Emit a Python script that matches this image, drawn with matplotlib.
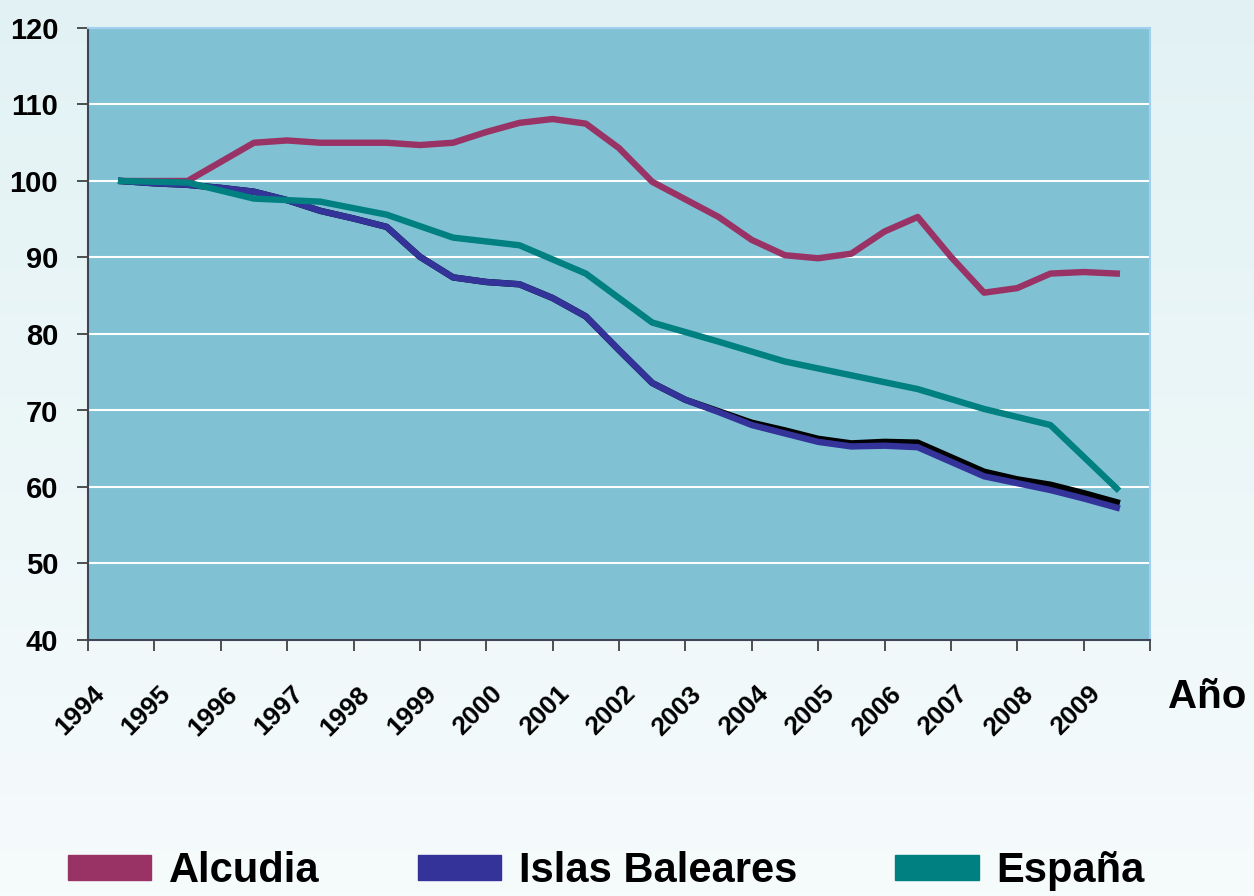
import numpy as np
import matplotlib
matplotlib.use('Agg')
import matplotlib.pyplot as plt
from matplotlib.patches import Patch
from matplotlib.colors import LinearSegmentedColormap
from matplotlib.transforms import ScaledTranslation
from matplotlib import font_manager

# Indices 1994 = 100
# Alcudia / Islas Baleares drawn as smoothed curves -> read at half-year steps
x_half = np.arange(1994.5, 2010.0, 0.5)
alcudia = [100.0, 100.0, 100.0, 102.5, 105.0, 105.3, 105.0, 105.0, 105.0, 104.7,
           105.0, 106.4, 107.6, 108.1, 107.5, 104.3, 99.9, 97.6, 95.3, 92.3,
           90.3, 89.9, 90.5, 93.4, 95.3, 90.1, 85.4, 86.0, 87.9, 88.1, 87.9]
baleares = [100.0, 99.7, 99.5, 99.1, 98.6, 97.5, 96.1, 95.1, 94.0, 90.1,
            87.4, 86.8, 86.5, 84.7, 82.3, 77.9, 73.6, 71.4, 69.8, 68.1,
            67.0, 65.9, 65.3, 65.4, 65.2, 63.3, 61.4, 60.5, 59.6, 58.5, 57.3]
# black series hidden under Baleares (no legend entry)
sombra = [100.0, 99.7, 99.5, 99.1, 98.6, 97.5, 96.1, 95.1, 94.0, 90.1,
          87.4, 86.8, 86.5, 84.7, 82.3, 77.9, 73.6, 71.4, 69.9, 68.4,
          67.4, 66.3, 65.7, 65.9, 65.8, 63.9, 62.0, 61.0, 60.3, 59.2, 58.0]
# España: yearly points, straight segments
x_year = np.arange(1994.5, 2010.0, 1.0)
espana = [100.0, 99.8, 97.7, 97.3, 95.6, 92.6, 91.6, 87.9, 81.5, 79.0,
          76.4, 74.6, 72.8, 70.2, 68.1, 59.8]

years = [str(y) for y in range(1994, 2010)]
series_names = ['Alcudia', 'Islas Baleares', 'España']
colors = ['#993366', '#333399', '#008080']

names = {f.name for f in font_manager.fontManager.ttflist}
main_font = 'Liberation Sans' if 'Liberation Sans' in names else 'DejaVu Sans'
leg_font = 'Liberation Sans Narrow' if 'Liberation Sans Narrow' in names else main_font
plt.rcParams['font.family'] = [main_font, 'DejaVu Sans']

fig = plt.figure(figsize=(12.54, 8.96), dpi=100)

# light gradient background
bg = fig.add_axes([0, 0, 1, 1], zorder=-10)
grad = np.linspace(0, 1, 256).reshape(-1, 1)
bg_cmap = LinearSegmentedColormap.from_list('bg', ['#e2f2f4', '#f6fbfc'])
bg.imshow(grad, aspect='auto', cmap=bg_cmap, extent=[0, 1, 0, 1])
bg.axis('off')

ax = fig.add_axes([88 / 1254, 1 - 640 / 896, (1150 - 88) / 1254, (640 - 28) / 896])
ax.set_facecolor('#80c2d3')

lw = 4.6
ax.plot(x_half, alcudia, color=colors[0], lw=lw, solid_joinstyle='round', zorder=3)
ax.plot(x_half, sombra, color='black', lw=lw, solid_joinstyle='round', zorder=4)
ax.plot(x_half, baleares, color=colors[1], lw=lw, solid_joinstyle='round', zorder=5)
ax.plot(x_year, espana, color=colors[2], lw=lw, solid_joinstyle='round', zorder=6)

ax.set_xlim(1994, 2010)
ax.set_ylim(40, 120)
ax.set_yticks(range(40, 121, 10))
ax.yaxis.grid(True, color='white', lw=1.5)
ax.set_axisbelow(True)

ax.set_xticks(range(1994, 2011))
ax.set_xticklabels([])
ax.set_xticks(x_year, minor=True)
ax.set_xticklabels(years, minor=True)
ax.tick_params(axis='x', which='major', length=8, width=1.2, color='#333333', direction='out')
ax.tick_params(axis='x', which='minor', length=0, pad=30, labelsize=19)
ax.tick_params(axis='y', length=8, width=1.2, color='#333333', pad=13.5, labelsize=21)
shift = ScaledTranslation(-29 / 100, 0, fig.dpi_scale_trans)
for lbl in ax.get_xticklabels(minor=True):
    lbl.set_rotation(45)
    lbl.set_ha('right')
    lbl.set_va('top')
    lbl.set_rotation_mode('anchor')
    lbl.set_fontweight('bold')
    lbl.set_transform(lbl.get_transform() + shift)
for lbl in ax.get_yticklabels():
    lbl.set_fontweight('bold')

for s in ['left', 'bottom']:
    ax.spines[s].set_color('#3c4656')
    ax.spines[s].set_linewidth(1.5)
for s in ['top', 'right']:
    ax.spines[s].set_color('#a3d0ef')
    ax.spines[s].set_linewidth(1.5)

fig.text(1168 / 1254, 1 - 697 / 896, 'Año', fontsize=29, fontweight='bold',
         ha='left', va='center')

handles = [Patch(facecolor=c, edgecolor=c) for c in colors]
fig.legend(handles, series_names, ncol=3, loc='upper left',
           bbox_to_anchor=(68 / 1254, 1 - 851 / 896), frameon=False,
           prop={'family': leg_font, 'weight': 'bold', 'size': 30},
           handlelength=2.0, handleheight=0.55, handletextpad=0.43,
           columnspacing=2.35, borderpad=0, borderaxespad=0)

fig.savefig('out.png', dpi=100)
